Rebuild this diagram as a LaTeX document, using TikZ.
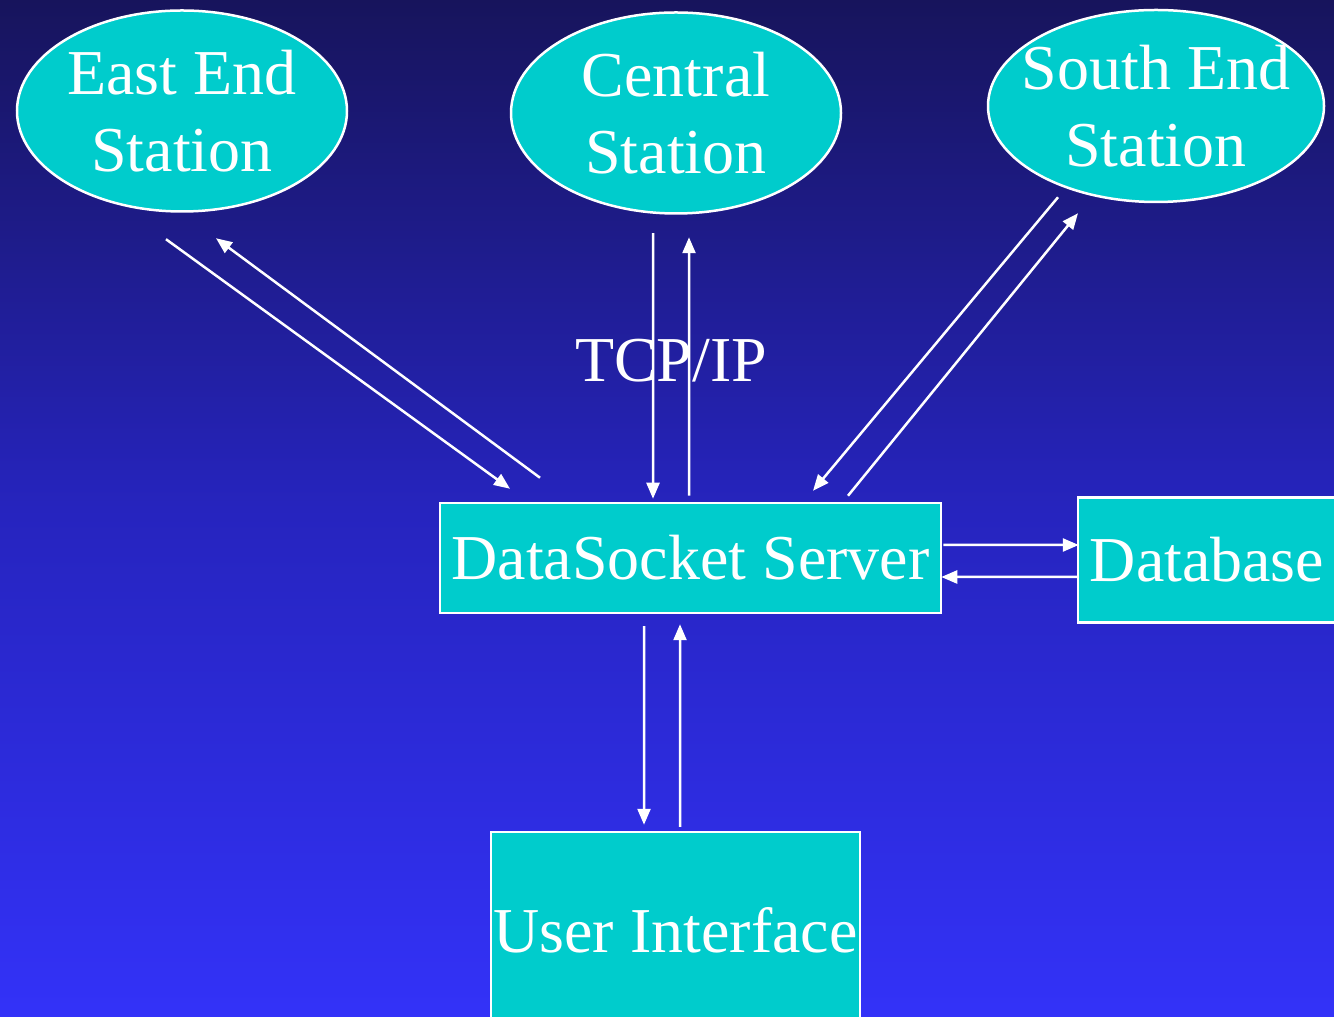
\documentclass[tikz,border=0pt]{standalone}
\usepackage{fontspec}
\setmainfont{Liberation Serif}
\usepackage{tikz}
\usetikzlibrary{calc}
\usetikzlibrary{arrows.meta}
\usetikzlibrary{positioning}
\usetikzlibrary{shapes.geometric}
\definecolor{navytop}{RGB}{23, 20, 92}
\definecolor{navymid}{RGB}{38, 36, 190}
\definecolor{navybot}{RGB}{51, 50, 248}
\definecolor{stationcyan}{RGB}{0, 204, 204}

\begin{document}
\begin{tikzpicture}[
        bigtext/.style={text=white, font=\fontsize{18.2}{21.9}\selectfont},
        station/.style={ellipse, draw=white, line width=0.025cm, fill=stationcyan, inner sep=-0.6cm, align=center, bigtext},
        block/.style={rectangle, draw=white, line width=0.025cm, fill=stationcyan, inner sep=0pt, bigtext},
        link/.style={draw=white, line width=0.025cm, -{Triangle[length=0.16cm, width=0.13cm]}}
    ]
        % background
        \shade[top color=navytop, bottom color=navybot, middle color=navymid] (0.00, 0.00) rectangle (13.34, 10.16);
        \useasboundingbox (0.00, 0.00) rectangle (13.34, 10.16);

        % stations
        \node[station, minimum width=3.30cm, minimum height=2.01cm] (east)    at ( 1.82, 9.05) {East End\\Station};
        \node[station, minimum width=3.30cm, minimum height=2.01cm] (central) at ( 6.76, 9.03) {Central\\Station};
        \node[station, minimum width=3.36cm, minimum height=1.92cm] (south)   at (11.56, 9.10) {South End\\Station};

        % server, database, user interface
        \node[block, minimum width=5.01cm, minimum height=1.10cm] (server) at ( 6.905, 4.58) {DataSocket Server};
        \node[block, minimum width=2.58cm, minimum height=1.25cm] (db)     at (12.07, 4.56) {Database};
        \node[block, minimum width=3.69cm, minimum height=1.96cm] (ui)     at ( 6.755, 0.86) {User Interface};

        \node[bigtext, anchor=center] (tcp) at (6.71, 6.55) {TCP/IP};

        % links to the stations
        \draw[link] ($(east.south)+(-0.16,-0.265)$)    -- ($(server.north)+(-1.805,0.13)$);
        \draw[link] ($(server.north)+(-1.505,0.24)$)   -- ($(east.south)+(0.34,-0.255)$);
        \draw[link] ($(central.south)+(-0.23,-0.185)$) -- ($(server.north)+(-0.375,0.03)$);
        \draw[link] ($(server.north)+(-0.015,0.06)$)   -- ($(central.south)+(0.13,-0.225)$);
        \draw[link] ($(south.south)+(-0.98,0.06)$)     -- ($(server.north)+(1.225,0.11)$);
        \draw[link] ($(server.north)+(1.575,0.06)$)    -- ($(south.south)+(-0.78,-0.10)$);

        % database and user interface
        \draw[link] ($(server.east)+(0.01,0.13)$)  -- ($(db.west)+(0.02,0.15)$);
        \draw[link] ($(db.west)+(0.00,-0.17)$)     -- ($(server.east)+(-0.01,-0.19)$);
        \draw[link] ($(server.south)+(-0.465,-0.12)$) -- ($(ui.north)+(-0.315,0.06)$);
        \draw[link] ($(ui.north)+(0.045,0.04)$)    -- ($(server.south)+(-0.105,-0.10)$);
\end{tikzpicture}
\end{document}
